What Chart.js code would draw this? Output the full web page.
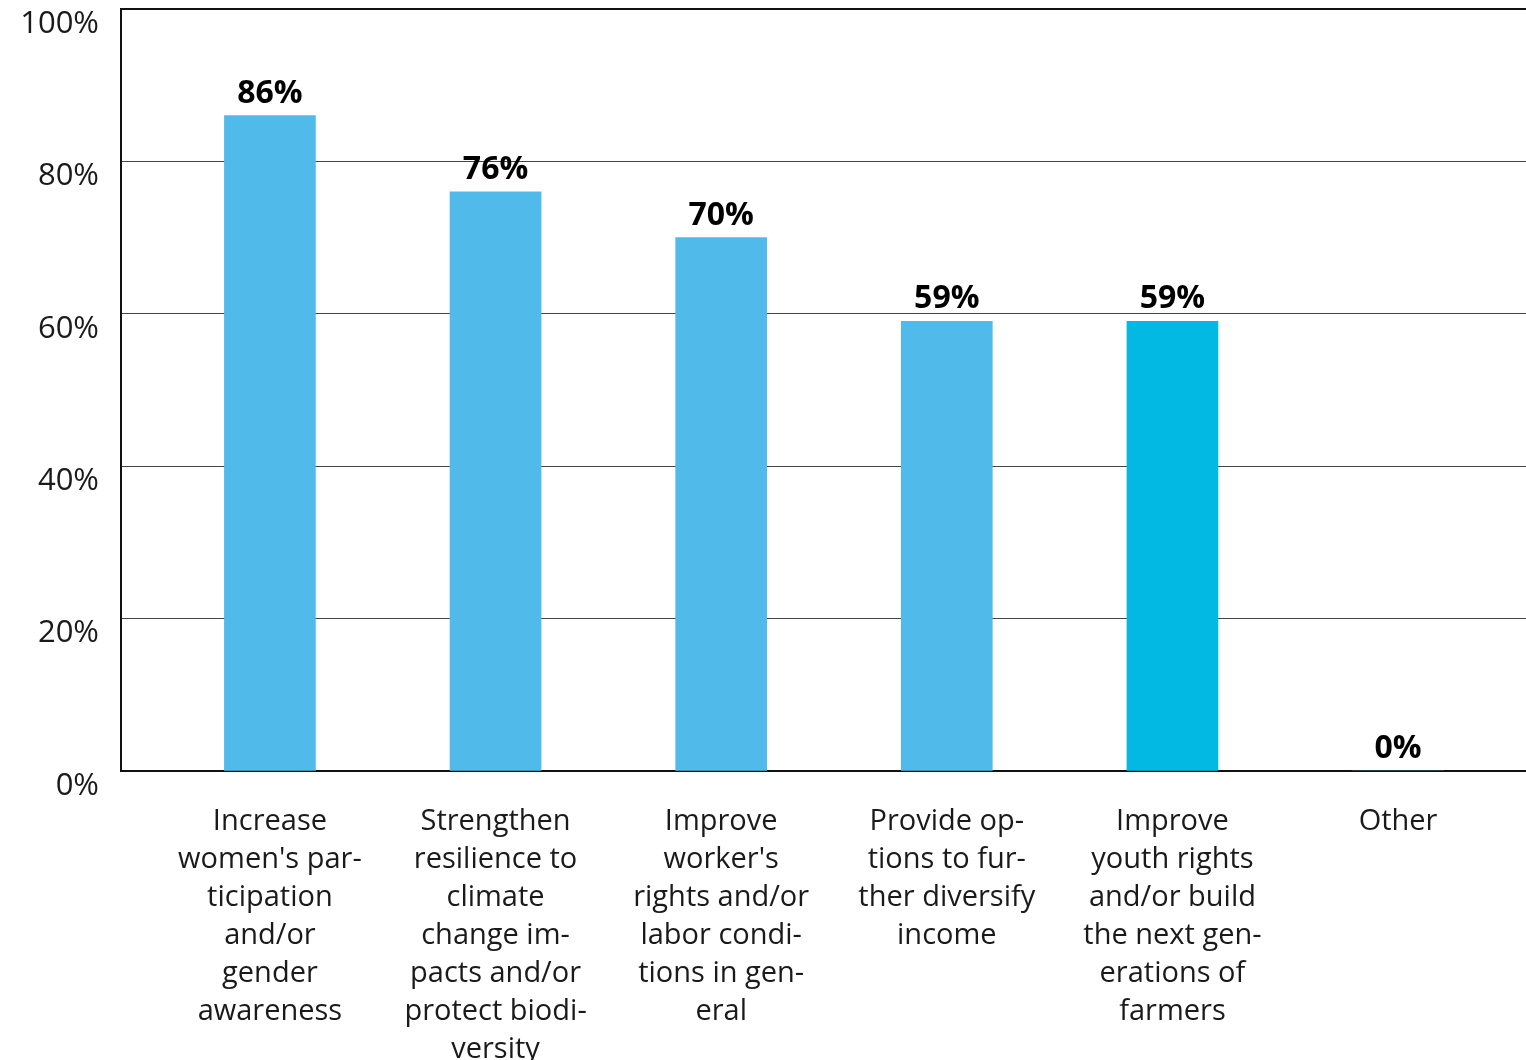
<!DOCTYPE html>
<html lang="en">
<head>
<meta charset="UTF-8">
<title>Chart</title>
<script src="https://cdn.jsdelivr.net/npm/chart.js"></script>
<style>
  html, body { margin: 0; padding: 0; background: #fff; }
  #wrap { width: 1526px; height: 1060px; position: relative; }
</style>
</head>
<body>
<div id="wrap"><canvas id="grafico"></canvas></div>
<script>
    // dados
    var categorias = [
        ["Increase", "women's par-", "ticipation", "and/or", "gender", "awareness"],
        ["Strengthen", "resilience to", "climate", "change im-", "pacts and/or", "protect biodi-", "versity"],
        ["Improve", "worker's", "rights and/or", "labor condi-", "tions in gen-", "eral"],
        ["Provide op-", "tions to fur-", "ther diversify", "income"],
        ["Improve", "youth rights", "and/or build", "the next gen-", "erations of", "farmers"],
        ["Other"]
    ];
    var valores = [86, 76, 70, 59, 59, 0];
    var coresBarras = ["#50BBEB", "#50BBEB", "#50BBEB", "#50BBEB", "#02B9E3", "#50BBEB"];
    var ticksY = [0, 20, 40, 60, 80, 100];

    var pontos = [];
    for (var i = 0; i < valores.length; i++) {
        pontos.push({ x: i, y: valores[i] });
    }

    var rotulos = {
        id: 'rotulos',
        afterDatasetsDraw: function (chart) {
            var ctx = chart.ctx;
            var meta = chart.getDatasetMeta(0);
            ctx.save();
            ctx.font = 'bold 32px "Open Sans", Lato, sans-serif';
            ctx.fillStyle = '#000';
            ctx.textAlign = 'center';
            ctx.textBaseline = 'alphabetic';
            meta.data.forEach(function (bar, i) {
                ctx.fillText(valores[i] + '%', bar.x, bar.y - 13);
            });
            ctx.restore();
        }
    };

    var ctx = document.getElementById('grafico').getContext('2d');
    var meuGrafico = new Chart(ctx, {
        type: 'bar',
        data: {
            datasets: [{
                data: pontos,
                backgroundColor: coresBarras,
                barThickness: 91,
                borderWidth: 0
            }]
        },
        options: {
            responsive: true,
            maintainAspectRatio: false,
            animation: false,
            layout: { padding: { top: 9, right: 0, left: 0, bottom: 0 } },
            plugins: {
                legend: { display: false },
                tooltip: { enabled: false }
            },
            scales: {
                x: {
                    type: 'linear',
                    offset: false,
                    min: -0.66,
                    max: 5.567,
                    afterBuildTicks: function (scale) {
                        scale.ticks = categorias.map(function (c, i) { return { value: i }; });
                    },
                    afterFit: function (scale) {
                        scale.height = 289;
                        scale.paddingLeft = 0;
                        scale.paddingRight = 0;
                    },
                    grid: { display: false, drawTicks: false, offset: false },
                    border: { display: true, color: '#111', width: 2 },
                    ticks: {
                        autoSkip: false,
                        maxRotation: 0,
                        minRotation: 0,
                        padding: 32,
                        color: '#1a1a1a',
                        font: { family: '"Open Sans", Lato, sans-serif', size: 29, lineHeight: 1.31 },
                        callback: function (v) { return categorias[v] || ''; }
                    }
                },
                y: {
                    min: 0,
                    max: 100,
                    afterBuildTicks: function (scale) {
                        scale.ticks = ticksY.map(function (v) { return { value: v }; });
                    },
                    afterFit: function (scale) {
                        scale.width = 121;
                        scale.paddingTop = 0;
                        scale.paddingBottom = 0;
                    },
                    grid: {
                        drawTicks: false,
                        color: function (c) { return c.tick && c.tick.value === 100 ? '#111' : '#444'; },
                        lineWidth: function (c) { return c.tick && c.tick.value === 100 ? 2 : 1; }
                    },
                    border: { display: true, color: '#111', width: 2 },
                    ticks: {
                        padding: 22,
                        labelOffset: 15,
                        color: '#1a1a1a',
                        font: { family: '"Open Sans", Lato, sans-serif', size: 31 },
                        callback: function (v) { return v + '%'; }
                    }
                }
            }
        },
        plugins: [rotulos]
    });
</script>
</body>
</html>
